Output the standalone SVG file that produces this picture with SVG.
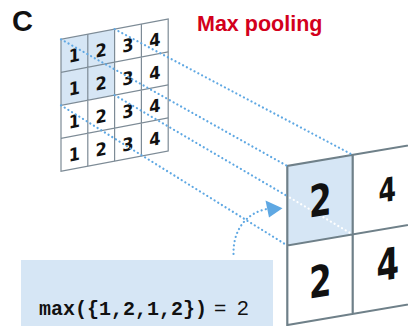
<svg xmlns="http://www.w3.org/2000/svg" width="408" height="326" viewBox="0 0 408 326">
  <defs>
    <style>
      .grid-s { fill: none; stroke: #7d8b96; stroke-width: 1.2; }
      .grid-l { fill: none; stroke: #6f8089; stroke-width: 2.2; }
      .hl { fill: #d6e6f5; }
      .cell { fill: #ffffff; }
      .dig-s { font-family: "DejaVu Sans Condensed", "DejaVu Sans", sans-serif; font-stretch: condensed; font-weight: bold; font-size: 18px; fill: #111; text-anchor: middle; }
      .dig-l { font-family: "DejaVu Sans Condensed", "DejaVu Sans", sans-serif; font-stretch: condensed; font-weight: bold; fill: #111; text-anchor: middle; }
      .dots { fill: none; stroke: #5fa8e3; stroke-width: 2.2; stroke-linecap: round; stroke-dasharray: 0.1 4.2; }
      .dots-w { fill: none; stroke: #ffffff; stroke-width: 2.2; stroke-linecap: round; stroke-dasharray: 0.1 4.2; }
    </style>
  </defs>

  <rect x="0" y="0" width="408" height="326" fill="#ffffff"/>

  <!-- panel letter and heading -->
  <g id="panel-label">
    <text x="12" y="31" font-family="Liberation Sans, Arial, sans-serif" font-weight="bold" font-size="29" fill="#111">C</text>
  </g>
  <g id="title">
    <text x="197" y="31" font-family="Liberation Sans, Arial, sans-serif" font-weight="bold" font-size="21.5" fill="#d3001c">Max pooling</text>
  </g>

  <!-- 4x4 input feature map, skewed -->
  <g id="input-map" transform="matrix(1,-0.19,0,1,61,39.3)">
    <rect class="cell" x="0" y="0" width="107.2" height="132"/>
    <rect class="hl" x="0" y="0" width="53.6" height="66"/>
    <rect class="grid-s" x="0" y="0" width="107.2" height="132"/>
    <path class="grid-s" d="M26.8 0V132M53.6 0V132M80.4 0V132M0 33H107.2M0 66H107.2M0 99H107.2"/>
    <g class="dig-s">
      <text x="13.4" y="25">1</text><text x="40.2" y="25">2</text><text x="67" y="25">3</text><text x="93.8" y="25">4</text>
      <text x="13.4" y="58">1</text><text x="40.2" y="58">2</text><text x="67" y="58">3</text><text x="93.8" y="58">4</text>
      <text x="13.4" y="91">1</text><text x="40.2" y="91">2</text><text x="67" y="91">3</text><text x="93.8" y="91">4</text>
      <text x="13.4" y="124">1</text><text x="40.2" y="124">2</text><text x="67" y="124">3</text><text x="93.8" y="124">4</text>
    </g>
  </g>

  <!-- 2x2 pooled output map, skewed -->
  <g id="output-map" transform="matrix(1,-0.17,0,1,287.3,166)">
    <rect class="cell" x="0" y="0" width="140" height="160"/>
    <rect class="hl" x="0" y="0" width="65.4" height="79.5"/>
    <path class="grid-l" d="M140 0H0V160M65.4 0V160M0 79.5H140M0 159H140"/>
  </g>

  <!-- formula box -->
  <g id="formula">
    <rect x="21" y="260" width="252" height="66" fill="#d6e6f5"/>
    <text x="39" y="315" font-family="Liberation Mono, Courier New, monospace" font-weight="bold" font-size="20" fill="#111">max({1,2,1,2})</text>
    <text x="214" y="315" font-family="Liberation Sans, Arial, sans-serif" font-size="21" fill="#111">=</text>
    <text x="237" y="315" font-family="Liberation Sans, Arial, sans-serif" font-size="21" fill="#111">2</text>
  </g>

  <!-- projection lines and pointer -->
  <g id="connectors">
    <line class="dots" x1="61" y1="39.3" x2="287.3" y2="166"/>
    <line class="dots" x1="114.6" y1="29.1" x2="352.7" y2="154.9"/>
    <line class="dots" x1="61" y1="105.3" x2="287.3" y2="245.5"/>
    <line class="dots" x1="114.6" y1="95.1" x2="287.3" y2="196.1"/>
    <line class="dots-w" x1="290" y1="197.7" x2="352.7" y2="234.4"/>
    <path class="dots" d="M233.5 254 C233 230 246 213 267 209"/>
    <polygon points="265.5,200.5 282.5,208.3 269,217.5" fill="#5fa8e3"/>
  </g>

  <!-- pooled values, drawn above the projection lines -->
  <g id="output-values" transform="matrix(1,-0.17,0,1,287.3,166)">
    <text class="dig-l" transform="translate(33,55.5) scale(0.82,1)" font-size="44">2</text>
    <text class="dig-l" transform="translate(100,52.5) scale(0.85,1)" font-size="33">4</text>
    <text class="dig-l" transform="translate(33,136.5) scale(0.82,1)" font-size="44">2</text>
    <text class="dig-l" transform="translate(100.5,131) scale(0.82,1)" font-size="44">4</text>
  </g>
</svg>
